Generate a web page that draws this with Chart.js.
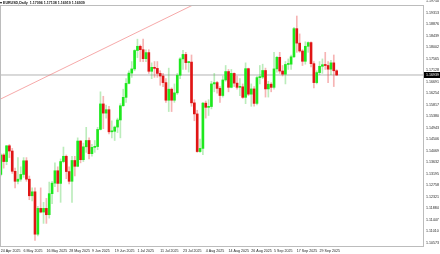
<!DOCTYPE html>
<html><head><meta charset="utf-8">
<script src="https://cdn.jsdelivr.net/npm/chart.js@4.4.1/dist/chart.umd.min.js"></script>
<style>html,body{margin:0;padding:0;background:#fff;}canvas{display:block;}</style>
</head><body>
<canvas id="c" width="440" height="254"></canvas>
<script>
const dates = [
"24 Apr 2025","25 Apr 2025","28 Apr 2025","29 Apr 2025","30 Apr 2025",
"1 May 2025","2 May 2025","5 May 2025","6 May 2025","7 May 2025","8 May 2025","9 May 2025","12 May 2025","13 May 2025","14 May 2025","15 May 2025","16 May 2025","19 May 2025","20 May 2025","21 May 2025","22 May 2025","23 May 2025","26 May 2025","27 May 2025","28 May 2025","29 May 2025","30 May 2025",
"2 Jun 2025","3 Jun 2025","4 Jun 2025","5 Jun 2025","6 Jun 2025","9 Jun 2025","10 Jun 2025","11 Jun 2025","12 Jun 2025","13 Jun 2025","16 Jun 2025","17 Jun 2025","18 Jun 2025","19 Jun 2025","20 Jun 2025","23 Jun 2025","24 Jun 2025","25 Jun 2025","26 Jun 2025","27 Jun 2025","30 Jun 2025",
"1 Jul 2025","2 Jul 2025","3 Jul 2025","4 Jul 2025","7 Jul 2025","8 Jul 2025","9 Jul 2025","10 Jul 2025","11 Jul 2025","14 Jul 2025","15 Jul 2025","16 Jul 2025","17 Jul 2025","18 Jul 2025","21 Jul 2025","22 Jul 2025","23 Jul 2025","24 Jul 2025","25 Jul 2025","28 Jul 2025","29 Jul 2025","30 Jul 2025","31 Jul 2025",
"1 Aug 2025","4 Aug 2025","5 Aug 2025","6 Aug 2025","7 Aug 2025","8 Aug 2025","11 Aug 2025","12 Aug 2025","13 Aug 2025","14 Aug 2025","15 Aug 2025","18 Aug 2025","19 Aug 2025","20 Aug 2025","21 Aug 2025","22 Aug 2025","25 Aug 2025","26 Aug 2025","27 Aug 2025","28 Aug 2025","29 Aug 2025",
"1 Sep 2025","2 Sep 2025","3 Sep 2025","4 Sep 2025","5 Sep 2025","8 Sep 2025","9 Sep 2025","10 Sep 2025","11 Sep 2025","12 Sep 2025","15 Sep 2025","16 Sep 2025","17 Sep 2025","18 Sep 2025","19 Sep 2025","22 Sep 2025","23 Sep 2025","24 Sep 2025","25 Sep 2025","26 Sep 2025","29 Sep 2025","30 Sep 2025",
"1 Oct 2025","2 Oct 2025","3 Oct 2025","6 Oct 2025","7 Oct 2025"];

const opens = [1.1316,1.1390,1.1365,1.1425,1.1405,1.1328,1.1290,1.1298,1.1316,1.1368,1.1298,1.1235,1.1250,1.1089,1.1187,1.1173,1.1187,1.1163,1.1243,1.1283,1.1330,1.1282,1.1365,1.1385,1.1327,1.1290,1.1369,1.1347,1.1443,1.1372,1.1421,1.1445,1.1395,1.1419,1.1422,1.1487,1.1584,1.1549,1.1562,1.1478,1.1480,1.1496,1.1523,1.1577,1.1609,1.1662,1.1701,1.1717,1.1787,1.1803,1.1790,1.1756,1.1779,1.1708,1.1723,1.1719,1.1700,1.1690,1.1665,1.1598,1.1640,1.1598,1.1626,1.1693,1.1755,1.1772,1.1741,1.1743,1.1588,1.1546,1.1403,1.1415,1.1587,1.1571,1.1574,1.1660,1.1665,1.1643,1.1616,1.1675,1.1707,1.1647,1.1700,1.1663,1.1647,1.1649,1.1609,1.1718,1.1621,1.1641,1.1586,1.1684,1.1686,1.1711,1.1641,1.1659,1.1647,1.1717,1.1761,1.1709,1.1697,1.1734,1.1735,1.1763,1.1870,1.1815,1.1785,1.1746,1.1803,1.1817,1.1737,1.1665,1.1703,1.1727,1.1733,1.1730,1.1716,1.1740,1.1710];
const highs = [1.1395,1.1395,1.1425,1.1430,1.1415,1.1340,1.1380,1.1345,1.1380,1.1380,1.1310,1.1265,1.1265,1.1195,1.1265,1.1210,1.1225,1.1287,1.1290,1.1360,1.1345,1.1375,1.1420,1.1390,1.1345,1.1385,1.1385,1.1455,1.1445,1.1435,1.1495,1.1455,1.1430,1.1445,1.1495,1.1630,1.1613,1.1580,1.1575,1.1520,1.1500,1.1530,1.1585,1.1640,1.1680,1.1710,1.1745,1.1790,1.1830,1.1808,1.1830,1.1790,1.1790,1.1740,1.1745,1.1745,1.1710,1.1700,1.1680,1.1720,1.1645,1.1660,1.1700,1.1760,1.1788,1.1780,1.1745,1.1770,1.1600,1.1560,1.1450,1.1590,1.1595,1.1600,1.1670,1.1700,1.1670,1.1650,1.1690,1.1730,1.1715,1.1715,1.1702,1.1690,1.1680,1.1660,1.1740,1.1720,1.1660,1.1650,1.1690,1.1730,1.1735,1.1720,1.1670,1.1665,1.1780,1.1765,1.1780,1.1730,1.1745,1.1755,1.1770,1.1875,1.1918,1.1850,1.1790,1.1820,1.1820,1.1820,1.1745,1.1710,1.1745,1.1755,1.1780,1.1745,1.1750,1.1770,1.1714];
const lows = [1.1310,1.1340,1.1353,1.1380,1.1320,1.1265,1.1280,1.1290,1.1305,1.1290,1.1220,1.1215,1.1065,1.1082,1.1170,1.1130,1.1130,1.1150,1.1205,1.1270,1.1250,1.1210,1.1360,1.1300,1.1280,1.1210,1.1310,1.1345,1.1360,1.1365,1.1400,1.1375,1.1385,1.1400,1.1410,1.1485,1.1490,1.1530,1.1470,1.1455,1.1445,1.1475,1.1455,1.1575,1.1590,1.1660,1.1685,1.1710,1.1760,1.1745,1.1745,1.1745,1.1700,1.1680,1.1685,1.1685,1.1655,1.1650,1.1590,1.1555,1.1555,1.1590,1.1620,1.1680,1.1715,1.1715,1.1705,1.1575,1.1520,1.1400,1.1400,1.1391,1.1530,1.1540,1.1565,1.1630,1.1625,1.1590,1.1610,1.1670,1.1630,1.1645,1.1650,1.1640,1.1615,1.1605,1.1585,1.1615,1.1575,1.1575,1.1580,1.1660,1.1680,1.1610,1.1610,1.1630,1.1640,1.1705,1.1700,1.1690,1.1660,1.1715,1.1715,1.1760,1.1780,1.1780,1.1730,1.1735,1.1780,1.1725,1.1645,1.1660,1.1695,1.1700,1.1715,1.1665,1.1695,1.1650,1.1692];
const closes = [1.1390,1.1365,1.1425,1.1405,1.1328,1.1290,1.1298,1.1316,1.1368,1.1298,1.1235,1.1250,1.1089,1.1187,1.1173,1.1187,1.1163,1.1243,1.1283,1.1330,1.1282,1.1365,1.1385,1.1327,1.1290,1.1369,1.1347,1.1443,1.1372,1.1421,1.1445,1.1395,1.1419,1.1422,1.1487,1.1584,1.1549,1.1562,1.1478,1.1480,1.1496,1.1523,1.1577,1.1609,1.1662,1.1701,1.1717,1.1787,1.1803,1.1790,1.1756,1.1779,1.1708,1.1723,1.1719,1.1700,1.1690,1.1665,1.1598,1.1640,1.1598,1.1626,1.1693,1.1755,1.1772,1.1741,1.1743,1.1588,1.1546,1.1403,1.1415,1.1587,1.1571,1.1574,1.1660,1.1665,1.1643,1.1616,1.1675,1.1707,1.1647,1.1700,1.1663,1.1647,1.1649,1.1609,1.1718,1.1621,1.1641,1.1586,1.1684,1.1686,1.1711,1.1641,1.1659,1.1647,1.1717,1.1761,1.1709,1.1697,1.1734,1.1735,1.1763,1.1870,1.1815,1.1785,1.1746,1.1803,1.1817,1.1737,1.1665,1.1703,1.1727,1.1733,1.1730,1.1716,1.1740,1.1710,1.16939];

const yTicks = [1.10573,1.11010,1.11447,1.11884,1.12321,1.12758,1.13195,1.13632,1.14069,1.14506,1.14943,1.15380,1.15817,1.16254,1.16691,1.17128,1.17565,1.18002,1.18439,1.18876,1.19313,1.19750];
const xTickIdx = [0,8,16,24,32,40,48,56,64,72,80,88,96,104,112];
const trendIdx = [0, 80];
const trendPrice = [1.1603, 1.2026];
const currentPrice = 1.16939;
const titleText = "\u25BE EURUSD,Daily  1.17096 1.17138 1.16919 1.16939";

const FONT = '"Liberation Sans", Arial, sans-serif';
const up = (i) => closes[i] >= opens[i];

const frame = {
  id: 'frame',
  afterDraw(c) {
    const ctx = c.ctx, a = c.chartArea;
    ctx.save();
    ctx.strokeStyle = '#bcbcbc';
    ctx.lineWidth = 1;
    ctx.strokeRect(Math.round(a.left) + 0.5, Math.round(a.top) + 0.5, Math.round(a.right - a.left) - 1, Math.round(a.bottom - a.top) - 1);
    const y = c.scales.y.getPixelForValue(currentPrice);
    ctx.fillStyle = '#000';
    ctx.fillRect(Math.round(a.right), Math.round(y) - 3, 16, 6);
    ctx.fillStyle = '#fff';
    ctx.font = '3.6px ' + FONT;
    ctx.textBaseline = 'middle';
    ctx.textAlign = 'left';
    ctx.fillText(currentPrice.toFixed(5), a.right + 2, y);
    ctx.restore();
  }
};

new Chart(document.getElementById('c'), {
  type: 'bar',
  data: {
    datasets: [
      { label: 'body', order: 0, grouped: false,
        data: dates.map((d, i) => ({ x: i, y: [opens[i], closes[i]] })),
        backgroundColor: (ctx) => up(ctx.dataIndex) ? '#1ee81e' : '#e01515',
        borderWidth: 0, barThickness: 2, minBarLength: 1 },
      { label: 'wick', order: 1, grouped: false,
        data: dates.map((d, i) => ({ x: i, y: [lows[i], highs[i]] })),
        backgroundColor: (ctx) => up(ctx.dataIndex) ? 'rgba(60,200,60,0.35)' : 'rgba(230,40,40,0.35)',
        borderWidth: 0, barThickness: 1 },
      { type: 'line', label: 'trend', order: 2,
        data: trendIdx.map((x, k) => ({ x: x, y: trendPrice[k] })),
        borderColor: 'rgba(240,110,110,0.75)', borderWidth: 0.8, pointRadius: 0, fill: false },
      { type: 'line', label: 'bid', order: 3,
        data: [{ x: 0, y: currentPrice }, { x: 149, y: currentPrice }],
        borderColor: '#b4b4b4', borderWidth: 1, pointRadius: 0, fill: false }
    ]
  },
  options: {
    responsive: false, animation: false, devicePixelRatio: 1,
    layout: { padding: 0 },
    plugins: {
      legend: { display: false }, tooltip: { enabled: false },
      title: { display: true, text: titleText, align: 'start', color: '#111',
        font: { size: 3.6, family: FONT, lineHeight: 1 }, padding: { top: 1, bottom: 0.5 } }
    },
    scales: {
      x: { type: 'linear', min: -0.3, max: 148.7, offset: false,
        grid: { display: false, drawTicks: false, tickLength: 0 }, border: { display: false },
        afterBuildTicks: (s) => { s.ticks = xTickIdx.map(v => ({ value: v })); },
        afterFit: (s) => { s.height = 7; s.paddingLeft = 0; s.paddingRight = 0; s.paddingTop = 0; s.paddingBottom = 0; },
        ticks: { autoSkip: false, maxRotation: 0, minRotation: 0, align: 'start', padding: 1.5,
          color: '#222', font: { size: 3.6, family: FONT }, callback: (v) => dates[v] || '' } },
      y: { type: 'linear', position: 'right', min: 1.10403, max: 1.19595, bounds: 'data',
        grid: { display: false, drawTicks: false, tickLength: 0 }, border: { display: false },
        afterBuildTicks: (s) => { s.ticks = yTicks.map(v => ({ value: v })); },
        afterFit: (s) => { s.width = 16; s.paddingTop = 0; s.paddingBottom = 0; s.paddingLeft = 0; s.paddingRight = 0; },
        ticks: { autoSkip: false, padding: 2, color: '#222', font: { size: 3.6, family: FONT },
          callback: (v) => Number(v).toFixed(5) } }
    }
  },
  plugins: [frame]
});
</script>
</body></html>
